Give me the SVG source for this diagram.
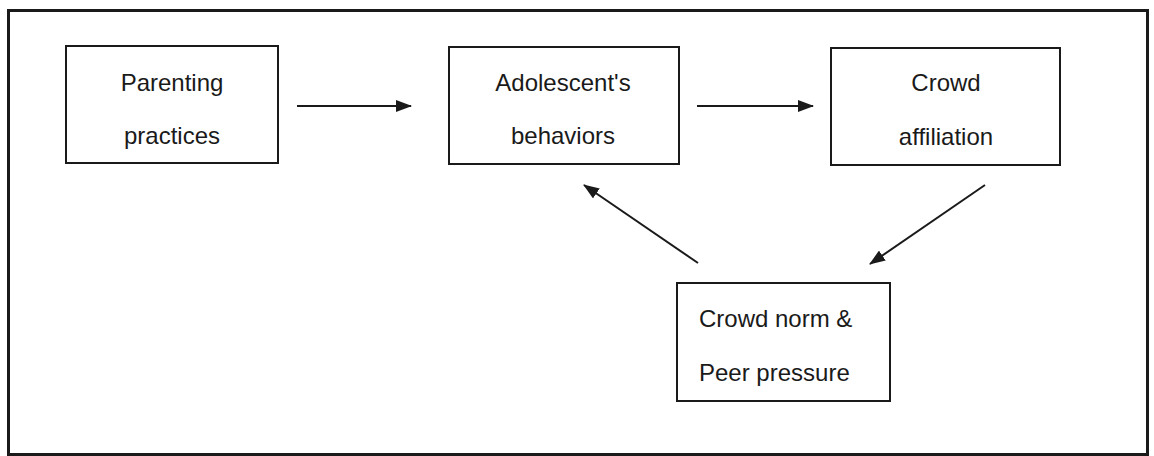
<svg xmlns="http://www.w3.org/2000/svg" width="1154" height="456" viewBox="0 0 1154 456">
<defs>
<style>
.box{fill:#fff;stroke:#1a1a1a;stroke-width:2}
.t{font-family:"Liberation Sans",Arial,sans-serif;font-size:24px;fill:#1a1a1a}
.c{text-anchor:middle}
.e{stroke:#1a1a1a;stroke-width:2;fill:none;marker-end:url(#ah)}
</style>
<marker id="ah" viewBox="0 0 16 12" refX="15" refY="6" markerWidth="8" markerHeight="6" markerUnits="strokeWidth" orient="auto">
<path d="M0,0 L16,6 L0,12 Z" fill="#1a1a1a"/>
</marker>
</defs>
<rect width="1154" height="456" fill="#fff"/>
<rect id="frame" x="8.5" y="10.5" width="1139" height="444" fill="none" stroke="#1a1a1a" stroke-width="3"/>
<g id="connectors">
<line class="e" x1="297" y1="106" x2="411" y2="106"/>
<line class="e" x1="697" y1="106" x2="813" y2="106"/>
<line class="e" x1="985" y1="185" x2="870" y2="264"/>
<line class="e" x1="698" y1="263" x2="584" y2="185"/>
</g>
<g id="parenting">
<rect class="box" x="66" y="46" width="212" height="117"/>
<text class="t c" x="172" y="91">Parenting</text>
<text class="t c" x="172" y="144">practices</text>
</g>
<g id="adolescent">
<rect class="box" x="449" y="47" width="230" height="117"/>
<text class="t c" x="563" y="91">Adolescent's</text>
<text class="t c" x="563" y="144">behaviors</text>
</g>
<g id="crowd-affiliation">
<rect class="box" x="831" y="48" width="229" height="117"/>
<text class="t c" x="946" y="91">Crowd</text>
<text class="t c" x="946" y="145">affiliation</text>
</g>
<g id="crowd-norm">
<rect class="box" x="677" y="283" width="213" height="118"/>
<text class="t" x="699" y="327">Crowd norm &amp;</text>
<text class="t" x="699" y="381">Peer pressure</text>
</g>
</svg>
